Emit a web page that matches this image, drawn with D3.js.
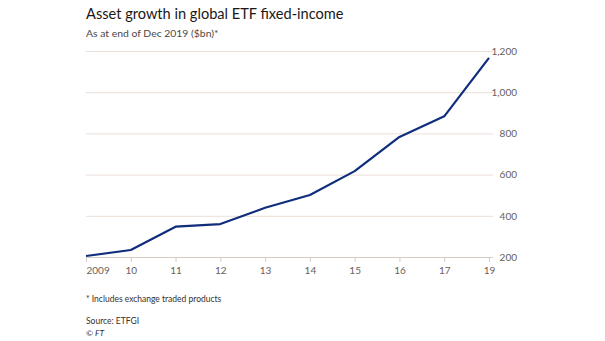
<!DOCTYPE html>
<html><head><meta charset="utf-8">
<script src="https://cdn.jsdelivr.net/npm/d3@7"></script>
<style>body{margin:0;background:#fff;}svg{display:block;font-family:Lato,"Open Sans",sans-serif;}</style>
</head><body>
<svg id="c" width="605" height="341"></svg>
<script>
const categories = ["2009","10","11","12","13","14","15","16","17","19"];
const values = [205, 234, 347, 360, 439, 501, 617, 783, 883, 1167];
const yTicks = [200, 400, 600, 800, 1000, 1200];

(function(){
const svg = d3.select("#c");
const mLeft = 86, mRight = 489, mTop = 51, mBottom = 257, gridRight = 493;

const x = d3.scalePoint().domain(categories).range([mLeft, mRight]);
const y = d3.scaleLinear().domain([200, 1200]).range([mBottom, mTop]);

svg.append("text").attr("x", 86).attr("y", 19).attr("font-size", 14.6).attr("fill", "#1a1817").text("Asset growth in global ETF fixed-income");
svg.append("text").attr("x", 86).attr("y", 36.5).attr("font-size", 10.4).attr("fill", "#4d4845").text("As at end of Dec 2019 ($bn)*");

const yAxis = d3.axisRight(y).tickValues(yTicks).tickSize(gridRight - mLeft).tickFormat(d3.format(","));
const gy = svg.append("g").attr("transform", `translate(${mLeft},0)`).call(yAxis);
gy.select(".domain").remove();
gy.selectAll(".tick line").attr("stroke", "#ecdfd8").attr("stroke-width", 1);
gy.selectAll(".tick").filter(d => d === 200).select("line").attr("stroke", "#d6ccc6");
gy.selectAll(".tick text").attr("x", 517 - mLeft).attr("text-anchor", "end").attr("font-size", 10).attr("fill", "#66605c").attr("font-family", "Lato,'Open Sans',sans-serif");

const xAxis = d3.axisBottom(x).tickSize(5).tickPadding(5);
const gx = svg.append("g").attr("transform", `translate(0,${mBottom})`).call(xAxis);
gx.select(".domain").remove();
gx.selectAll(".tick line").attr("stroke", "#d6ccc6");
gx.selectAll(".tick text").attr("font-size", 10).attr("fill", "#66605c").attr("font-family", "Lato,'Open Sans',sans-serif");
gx.selectAll(".tick text").filter((d, i) => i === 0).attr("text-anchor", "start");

const line = d3.line().x((d, i) => x(categories[i])).y(d => y(d));
svg.append("path").datum(values).attr("d", line).attr("fill", "none").attr("stroke", "#0f2d7c").attr("stroke-width", 2.2).attr("stroke-linejoin", "round");

svg.append("text").attr("x", 86).attr("y", 302).attr("font-size", 8.5).attr("fill", "#33302e").text("* Includes exchange traded products");
svg.append("text").attr("x", 86).attr("y", 324).attr("font-size", 8.5).attr("fill", "#33302e").text("Source: ETFGI");
svg.append("text").attr("x", 86).attr("y", 336).attr("font-size", 8.5).attr("fill", "#33302e").attr("font-style", "italic").text("© FT");
})();
</script>
</body></html>
